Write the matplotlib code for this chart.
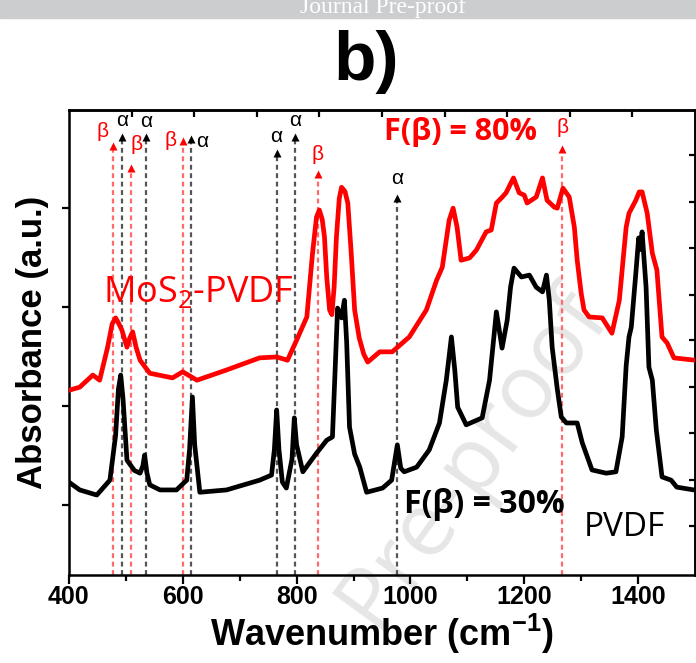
import matplotlib
matplotlib.use("Agg")
from matplotlib import pyplot as plt
from matplotlib.patches import Rectangle

plt.rcParams['mathtext.fontset'] = 'custom'
plt.rcParams['mathtext.rm'] = 'Open Sans'
plt.rcParams['mathtext.bf'] = 'Liberation Sans:bold'

# FTIR spectra (absorbance, arbitrary units)
pvdf_wn = [402, 419, 449, 472, 482, 487, 491, 495, 502, 515, 525, 530, 533, 537, 542,
           560, 589, 607, 612, 617, 621, 630, 677, 735, 756, 761, 765, 769, 775, 782,
           792, 796, 800, 811, 835, 853, 863, 868, 872, 879, 884, 888, 893, 902, 911,
           923, 951, 967, 977, 983, 989, 1011, 1033, 1051, 1063, 1072, 1078, 1083, 1098,
           1126, 1139, 1151, 1161, 1170, 1176, 1182, 1195, 1209, 1221, 1232, 1239, 1244,
           1249, 1258, 1265, 1274, 1293, 1302, 1319, 1344, 1361, 1372, 1379, 1384, 1388,
           1396, 1401, 1404, 1407, 1414, 1419, 1425, 1432, 1442, 1458, 1468, 1498]
pvdf_abs = [19.8, 18.3, 17.2, 20.4, 30.0, 40.0, 43.0, 38.0, 24.7, 22.5, 21.9, 23.5, 25.8, 22.0, 19.4,
            18.3, 18.3, 20.4, 27.0, 38.3, 28.0, 17.8, 18.3, 20.4, 21.5, 27.0, 35.5, 27.0, 20.0, 18.7,
            25.0, 33.8, 28.0, 22.2, 26.2, 29.0, 29.7, 45.0, 57.4, 55.3, 59.1, 50.0, 31.8, 26.0, 23.2,
            17.8, 18.7, 20.4, 28.0, 23.0, 22.2, 23.2, 26.9, 32.7, 41.9, 51.2, 44.0, 36.1, 32.3,
            33.8, 41.9, 56.6, 48.8, 54.8, 62.0, 66.0, 64.1, 64.5, 61.9, 60.9, 64.5, 59.1,
            49.0, 40.0, 34.0, 32.7, 32.7, 28.4, 22.6, 21.9, 22.2, 29.7, 45.0, 51.2, 53.3,
            64.9, 72.5, 70.0, 73.8, 61.9, 44.7, 41.9, 31.2, 21.1, 20.4, 18.9, 18.3]

mos2_wn = [402, 419, 442, 454, 468, 476, 482, 488, 493, 502, 507, 512, 518, 525, 542,
           582, 600, 625, 677, 735, 765, 784, 800, 818, 828, 835, 840, 845, 849, 853,
           858, 862, 866, 870, 875, 879, 885, 890, 896, 902, 910, 918, 925, 946, 968,
           998, 1028, 1046, 1056, 1068, 1075, 1082, 1089, 1104, 1116, 1133, 1142, 1151,
           1160, 1168, 1181, 1191, 1200, 1205, 1221, 1232, 1240, 1253, 1258, 1268, 1279,
           1288, 1293, 1300, 1305, 1314, 1337, 1354, 1367, 1379, 1384, 1396, 1402, 1407,
           1416, 1425, 1433, 1442, 1451, 1463, 1500]
mos2_abs = [39.8, 40.4, 43.0, 41.9, 49.0, 54.0, 55.3, 54.0, 52.7, 49.0, 51.0, 52.3, 49.0, 46.2, 43.4,
            42.4, 43.7, 41.9, 44.1, 46.7, 46.9, 46.2, 50.5, 55.5, 69.2, 77.0, 78.5, 76.5, 72.7, 64.0,
            57.0, 56.0, 62.0, 72.7, 81.0, 83.4, 82.5, 80.0, 69.2, 57.0, 51.0, 47.5, 45.8, 48.0, 48.0,
            51.2, 57.0, 63.4, 66.2, 76.3, 78.9, 74.8, 67.7, 68.2, 69.9, 73.8, 74.2, 80.0,
            81.1, 82.2, 85.4, 82.2, 81.7, 80.0, 81.3, 85.4, 80.6, 79.1, 78.9, 83.2, 81.3,
            74.8, 67.7, 60.6, 57.0, 55.5, 55.3, 52.0, 59.1, 74.8, 77.8, 80.6, 82.4, 82.4,
            77.8, 69.2, 65.6, 51.2, 49.9, 46.7, 46.2]

# band assignments: wavenumber, phase, arrow tip height
band_wn = [477, 493, 509, 535, 600, 614, 765, 798, 837, 977, 1267]
band_phase = ['β', 'α', 'β', 'α', 'β', 'α', 'α', 'α', 'β', 'α', 'β']
band_tip = [93.5, 95.3, 88.8, 95.3, 94.6, 95.0, 92.0, 95.3, 87.5, 82.2, 92.9]
# label positions for each band marker
label_x = [460, 493, 518, 535, 579, 635, 765, 798, 837, 977, 1267]
label_y = [95.3, 97.8, 92.5, 97.6, 93.5, 93.3, 94.4, 97.8, 90.5, 85.2, 96.3]

fig = plt.figure(figsize=(6.96, 6.63), dpi=100)
ax = fig.add_axes([0.099, 0.1327, 0.8996, 0.7013])
ax.set_facecolor('none')

for wn, ph, tip, lx, ly in zip(band_wn, band_phase, band_tip, label_x, label_y):
    if ph == 'β':
        lc, tc = '#ff6a6a', 'red'
    else:
        lc, tc = '#555555', 'black'
    ax.plot([wn, wn], [0, tip - 1.5], color=lc, lw=1.6, ls=(0, (2.2, 1.6)), zorder=1)
    ax.plot(wn, tip - 1.2, marker='^', ms=6, color=tc, mec='none', zorder=1)
    ax.text(lx, ly, ph, color=tc, fontsize=15, ha='center', va='center',
            family=['Liberation Sans', 'DejaVu Sans'])

ax.plot(pvdf_wn, pvdf_abs, color='black', lw=3.4, zorder=3, solid_joinstyle='round')
ax.plot(mos2_wn, mos2_abs, color='red', lw=3.4, zorder=3, solid_joinstyle='round')

ax.text(954, 95.3, 'F(β) = 80%', color='red', fontsize=22, fontweight='bold',
        ha='left', va='center', family=['Open Sans', 'DejaVu Sans'])
ax.text(989, 15.1, 'F(β) = 30%', color='black', fontsize=23, fontweight='bold',
        ha='left', va='center', family=['Open Sans', 'DejaVu Sans'])
ax.text(1305, 10.3, 'PVDF', color='black', fontsize=24,
        ha='left', va='center', family=['Open Sans', 'DejaVu Sans'])
ax.text(460, 60.6, 'MoS$_2$-PVDF', color='red', fontsize=26,
        ha='left', va='center', family=['Open Sans', 'DejaVu Sans'])

ax.set_xlim(400, 1500)
ax.set_ylim(0, 100)
ax.set_xticks([400, 600, 800, 1000, 1200, 1400])
ax.set_xticks(range(500, 1500, 200), minor=True)
ax.set_yticks([15.1, 36.3, 57.6, 78.9])
ax.set_yticklabels([])
ax.tick_params(axis='x', which='major', direction='out', length=6.5, width=1.6,
               labelsize=18, pad=1)
ax.tick_params(axis='x', which='minor', direction='out', length=4, width=1.6)
ax.tick_params(axis='y', direction='out', length=5, width=1.6)
for lbl in ax.get_xticklabels():
    lbl.set_fontweight('bold')
    lbl.set_family('Liberation Sans')
for s in ax.spines.values():
    s.set_linewidth(1.8)

top = ax.secondary_xaxis('top')
top.set_xticks([510, 620, 730, 840, 950, 1060, 1170, 1280, 1390])
top.tick_params(direction='in', length=5, width=1.6, labeltop=False)
top.spines['top'].set_linewidth(1.8)
right = ax.secondary_yaxis('right')
right.set_yticks([10.5, 20.4, 30.5, 40.4, 50.5, 60.2, 70.3, 80.2, 90.3])
right.tick_params(direction='in', length=4.5, width=1.6, labelright=False)
right.spines['right'].set_linewidth(1.8)

ax.set_xlabel(r'Wavenumber (cm$^{\mathbf{-1}}$)', fontsize=26, fontweight='bold',
              family='Liberation Sans', labelpad=2)
ax.set_ylabel('Absorbance (a.u.)', fontsize=25, fontweight='bold',
              family='Liberation Sans', labelpad=6)

# diagonal watermark, kept behind the axes content
fig.text(0.68, 0.31, 'Pre-proof', fontsize=64, color='#e6e6e6', rotation=54,
         ha='center', va='center', family='Open Sans', zorder=-1)

# header band
fig.patches.append(Rectangle((0, 1 - 18 / 663), 1, 18 / 663, transform=fig.transFigure,
                             color='#cccdcf', zorder=-2))
fig.text(383 / 696, 1 - 13 / 663, 'Journal Pre-proof', fontsize=17, color='white',
         ha='center', va='baseline', family='Liberation Serif')
fig.text(366 / 696, 1 - 80 / 663, 'b)', fontsize=50, fontweight='bold', ha='center',
         va='baseline', family=['Liberation Sans Narrow', 'Liberation Sans'])

fig.savefig('out.png', dpi=100)
